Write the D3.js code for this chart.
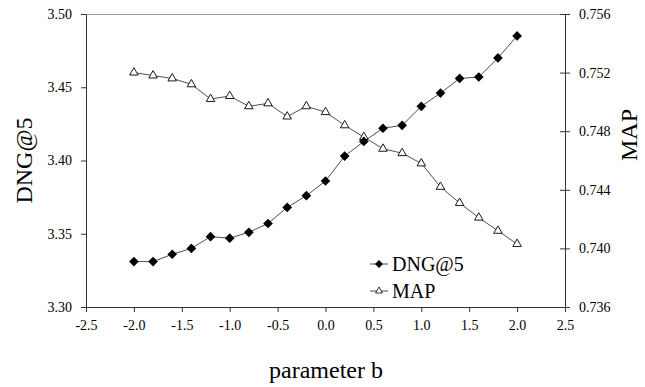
<!DOCTYPE html>
<html>
<head>
<meta charset="utf-8">
<script src="https://cdn.jsdelivr.net/npm/d3@7"></script>
<style>
  body { margin: 0; background: #fff; }
  svg text { font-family: 'Liberation Serif', 'Times New Roman', serif; fill: #000; }
</style>
</head>
<body>
<div id="chart"></div>
<script>
const params = [-2.0, -1.8, -1.6, -1.4, -1.2, -1.0, -0.8, -0.6, -0.4, -0.2, 0.0,
  0.2, 0.4, 0.6, 0.8, 1.0, 1.2, 1.4, 1.6, 1.8, 2.0];
const dngValues = [3.331, 3.331, 3.336, 3.340, 3.348, 3.347, 3.351, 3.357, 3.368, 3.376, 3.386,
  3.403, 3.413, 3.422, 3.424, 3.437, 3.446, 3.456, 3.457, 3.470, 3.485];
const mapValues = [0.7520, 0.7518, 0.7516, 0.7512, 0.7502, 0.7504, 0.7497, 0.7499, 0.7490, 0.7497, 0.7493,
  0.7484, 0.7476, 0.7468, 0.7465, 0.7458, 0.7442, 0.7431, 0.7421, 0.7412, 0.7403];
const xTicks = [-2.5, -2.0, -1.5, -1.0, -0.5, 0.0, 0.5, 1.0, 1.5, 2.0, 2.5];
const leftTicks = [3.30, 3.35, 3.40, 3.45, 3.50];
const rightTicks = [0.736, 0.740, 0.744, 0.748, 0.752, 0.756];

const width = 645, height = 387;
const margin = { top: 14, right: 80, bottom: 80, left: 86 };
const serif = "'Liberation Serif', 'Times New Roman', serif";

const svg = d3.select('#chart')
  .append('svg')
  .attr('width', width)
  .attr('height', height)
  .attr('font-family', serif);

const xScale = d3.scaleLinear()
  .domain([-2.5, 2.5])
  .range([margin.left, width - margin.right]);

const yLeft = d3.scaleLinear()
  .domain([3.30, 3.50])
  .range([height - margin.bottom, margin.top]);

const yRight = d3.scaleLinear()
  .domain([0.736, 0.756])
  .range([height - margin.bottom, margin.top]);

const x0 = margin.left, x1 = width - margin.right;
const yTop = margin.top, yBot = height - margin.bottom;

// hyphen instead of unicode minus, like the original
const fmt = p => d => d3.format(p)(d).replace('\u2212', '-');

// top border
svg.append('line')
  .attr('x1', x0).attr('x2', x1)
  .attr('y1', yTop + 0.5).attr('y2', yTop + 0.5)
  .attr('stroke', '#999').attr('stroke-width', 1);

// axes
const xAxis = svg.append('g')
  .attr('transform', `translate(0,${yBot})`)
  .call(d3.axisBottom(xScale).tickValues(xTicks).tickFormat(fmt('.1f')).tickSize(5).tickSizeOuter(0));

const leftAxis = svg.append('g')
  .attr('transform', `translate(${x0},0)`)
  .call(d3.axisLeft(yLeft).tickValues(leftTicks).tickFormat(fmt('.2f')).tickSize(5).tickSizeOuter(0));

const rightAxis = svg.append('g')
  .attr('transform', `translate(${x1},0)`)
  .call(d3.axisRight(yRight).tickValues(rightTicks).tickFormat(fmt('.3f')).tickSize(5).tickSizeOuter(0));

// right ticks cross the axis
rightAxis.selectAll('.tick line').attr('x1', -5);

[xAxis, leftAxis, rightAxis].forEach(g => {
  g.attr('font-family', serif).attr('font-size', 14);
  g.selectAll('.domain').attr('stroke', '#333');
  g.selectAll('.tick line').attr('stroke', '#333');
  g.selectAll('text').attr('fill', '#000');
});
xAxis.selectAll('text').attr('dy', '1.1em');
leftAxis.selectAll('text').attr('x', -14);
rightAxis.selectAll('text').attr('x', 14);

// axis titles
svg.append('text')
  .attr('x', 326).attr('y', 378)
  .attr('text-anchor', 'middle')
  .attr('font-size', 24)
  .text('parameter b');

svg.append('text')
  .attr('transform', `translate(32,${(yTop + yBot) / 2}) rotate(-90)`)
  .attr('text-anchor', 'middle')
  .attr('font-size', 24)
  .text('DNG@5');

svg.append('text')
  .attr('transform', `translate(637,135) rotate(-90)`)
  .attr('text-anchor', 'middle')
  .attr('font-size', 24)
  .text('MAP');

// lines
const lineDng = d3.line()
  .x((d, i) => xScale(params[i]))
  .y(d => yLeft(d));

const lineMap = d3.line()
  .x((d, i) => xScale(params[i]))
  .y(d => yRight(d));

svg.append('path')
  .attr('d', lineMap(mapValues))
  .attr('fill', 'none')
  .attr('stroke', '#222')
  .attr('stroke-width', 0.8);

svg.append('path')
  .attr('d', lineDng(dngValues))
  .attr('fill', 'none')
  .attr('stroke', '#222')
  .attr('stroke-width', 0.8);

const diamond = d3.symbol().type(d3.symbolDiamond2).size(60);
const triangle = d3.symbol().type(d3.symbolTriangle2).size(52);

svg.selectAll('.mapPt')
  .data(mapValues)
  .join('path')
  .attr('class', 'mapPt')
  .attr('transform', (d, i) => `translate(${xScale(params[i])},${yRight(d)})`)
  .attr('d', triangle)
  .attr('fill', '#fff')
  .attr('stroke', '#000')
  .attr('stroke-width', 0.9);

svg.selectAll('.dngPt')
  .data(dngValues)
  .join('path')
  .attr('class', 'dngPt')
  .attr('transform', (d, i) => `translate(${xScale(params[i])},${yLeft(d)})`)
  .attr('d', diamond)
  .attr('fill', '#000');

// legend
const legend = svg.append('g').attr('transform', 'translate(370,264)');
const items = [
  { label: 'DNG@5', sym: d3.symbol().type(d3.symbolDiamond2).size(40), fill: '#000', sw: 0 },
  { label: 'MAP', sym: d3.symbol().type(d3.symbolTriangle2).size(34), fill: '#fff', sw: 0.8 }
];
items.forEach((it, i) => {
  const g = legend.append('g').attr('transform', `translate(0,${i * 27})`);
  g.append('line').attr('x1', 0).attr('x2', 18).attr('stroke', '#222').attr('stroke-width', 0.8);
  g.append('path')
    .attr('transform', 'translate(9,0)')
    .attr('d', it.sym)
    .attr('fill', it.fill)
    .attr('stroke', '#000')
    .attr('stroke-width', it.sw);
  g.append('text')
    .attr('x', 22).attr('y', 7)
    .attr('font-size', 20)
    .text(it.label);
});
</script>
</body>
</html>
